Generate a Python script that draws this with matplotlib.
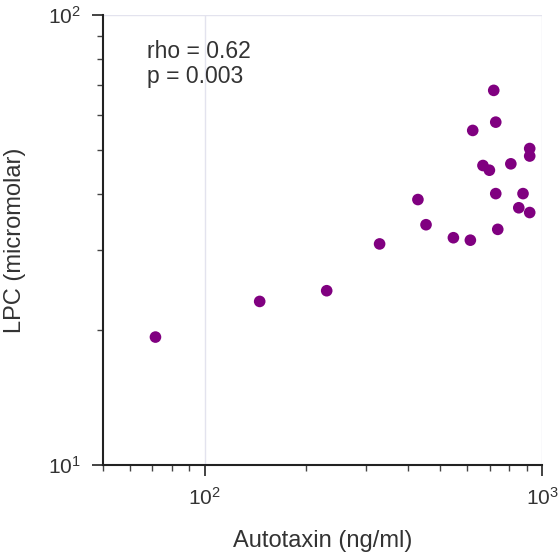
import numpy as np
import matplotlib
matplotlib.use("Agg")
import matplotlib.pyplot as plt

# values
autotaxin = [71.5, 145.6, 230, 330, 719, 729, 623, 919, 919, 808, 668, 698,
             729, 878, 428.6, 853, 919, 453, 739, 546, 613]
lpc = [19.25, 23.1, 24.4, 31.0, 68.0, 57.8, 55.4, 50.5, 48.6, 46.7, 46.3, 45.2,
       40.1, 40.1, 38.9, 37.3, 36.4, 34.2, 33.4, 32.0, 31.6]
stats_text = ["rho = 0.62", "p = 0.003"]

plt.rcParams['font.family'] = ['Liberation Sans', 'DejaVu Sans']
plt.rcParams['mathtext.default'] = 'regular'

fig = plt.figure(figsize=(5.6, 5.55), dpi=100)
ax = fig.add_axes([0.184, 0.162, 0.784, 0.811])

ax.scatter(autotaxin, lpc, s=70, color='#800080', edgecolors='none', zorder=3)
ax.set_xscale('log')
ax.set_yscale('log')
ax.set_xlim(50, 1000)
ax.set_ylim(10, 100)

ax.grid(True, which='major', color='#e3e3ee', linewidth=1)
ax.set_axisbelow(True)
for side in ['top', 'right']:
    ax.spines[side].set_visible(False)
for side in ['left', 'bottom']:
    ax.spines[side].set_color('#222222')
    ax.spines[side].set_linewidth(1.5)

ax.tick_params(which='major', length=8, width=1.2, color='#222222', labelsize=15, labelcolor='#333333', pad=8)
ax.tick_params(which='minor', length=4, width=1.0, color='#444444', labelbottom=False, labelleft=False)

ax.set_xlabel('Autotaxin (ng/ml)', fontsize=17, color='#333333', labelpad=15)
ax.set_ylabel('LPC (micromolar)', fontsize=17, color='#333333', labelpad=16)

ax.text(0.10, 0.945, "\n".join(stats_text), transform=ax.transAxes, fontsize=16.5,
        color='#333333', va='top', ha='left', linespacing=1.15)

fig.savefig('out.png', dpi=100)
